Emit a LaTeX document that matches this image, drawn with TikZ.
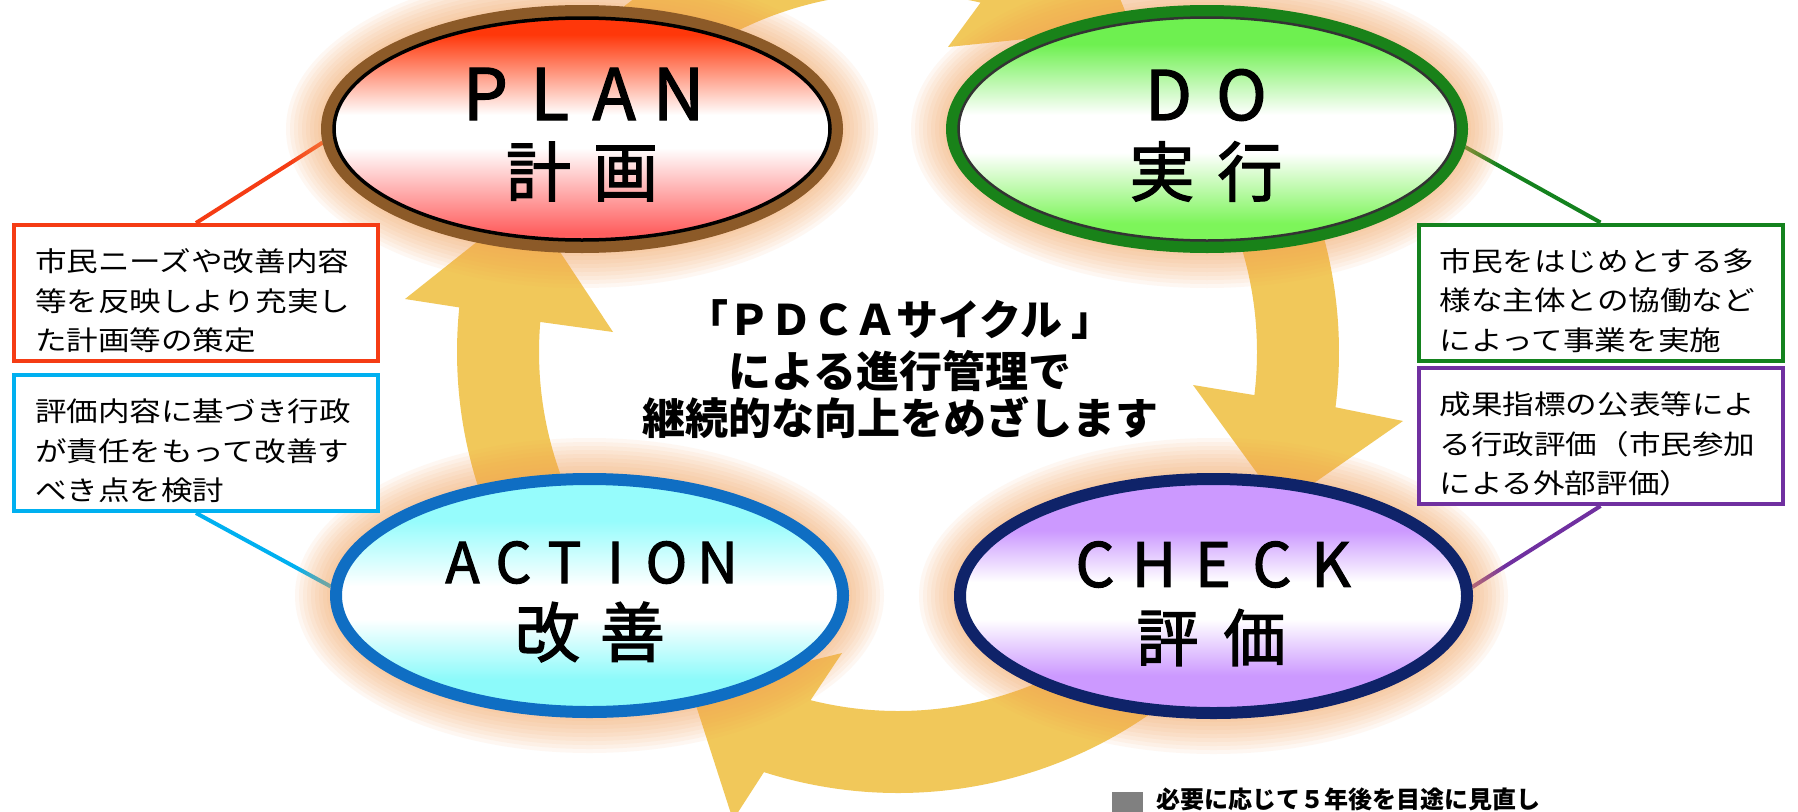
\documentclass[tikz,border=0pt]{standalone}
\usepackage{fontspec}
\setmainfont{Noto Sans CJK JP}
\newfontfamily\boxfont[FakeStretch=1.17]{Noto Sans CJK JP}
\newfontfamily\labelfont[FakeBold=2]{Noto Sans CJK JP}
\usetikzlibrary{shapes.geometric,calc}

\definecolor{arrowc}{RGB}{241,200,90}
\definecolor{glowc}{RGB}{247,160,85}
\definecolor{planT}{RGB}{255,55,10}
\definecolor{planB}{RGB}{255,95,95}
\definecolor{planBorder}{RGB}{140,90,40}
\definecolor{doT}{RGB}{110,240,80}
\definecolor{doB}{RGB}{125,245,90}
\definecolor{doBorder}{RGB}{25,130,25}
\definecolor{actT}{RGB}{150,252,252}
\definecolor{actB}{RGB}{140,250,250}
\definecolor{actBorder}{RGB}{15,110,195}
\definecolor{chkT}{RGB}{204,153,255}
\definecolor{chkB}{RGB}{204,153,255}
\definecolor{chkBorder}{RGB}{15,35,105}
\definecolor{redline}{RGB}{245,60,20}
\definecolor{cyanline}{RGB}{0,176,240}
\definecolor{greenline}{RGB}{20,130,30}
\definecolor{purpleline}{RGB}{112,48,160}
\definecolor{notegray}{RGB}{128,128,128}

\pgfdeclareverticalshading{planshade}{100bp}{color(0bp)=(planB); color(28bp)=(planB); color(46bp)=(white); color(53bp)=(white); color(70bp)=(planT); color(100bp)=(planT)}
\pgfdeclareverticalshading{doshade}{100bp}{color(0bp)=(doB); color(30bp)=(doB); color(45bp)=(white); color(53bp)=(white); color(68bp)=(doT); color(100bp)=(doT)}
\pgfdeclareverticalshading{actshade}{100bp}{color(0bp)=(actB); color(32bp)=(actB); color(45bp)=(white); color(52bp)=(white); color(66bp)=(actT); color(100bp)=(actT)}
\pgfdeclareverticalshading{chkshade}{100bp}{color(0bp)=(chkB); color(33bp)=(chkB); color(45bp)=(white); color(53bp)=(white); color(64bp)=(chkT); color(100bp)=(chkT)}

\pgfdeclarelayer{bg}
\pgfdeclarelayer{arrows}
\pgfdeclarelayer{lines}
\pgfdeclarelayer{glow}
\pgfsetlayers{bg,arrows,lines,glow,main}

\newcommand\spcells[2]{\def\spcellwidth{#1}\spcloop#2\relax}
\def\spcloop#1{\ifx\relax#1\else\makebox[\spcellwidth]{#1}\expandafter\spcloop\fi}
\newcommand\boxstrut{\rule{0pt}{39pt}}

\begin{document}
\begin{tikzpicture}[x=1pt,y=-1pt,
  phase/.style={ellipse, shade, inner sep=0pt, line width=12pt},
  lbl/.style={inner sep=0pt, text=black},
  infobox/.style={draw, line width=4pt, fill=white, minimum width=364pt, minimum height=136pt,
     align=left, text width=322pt, inner xsep=21pt, inner ysep=0pt,
     font=\boxfont\fontsize{27}{39.5}\selectfont},
  link/.style={line width=4pt},
  cyclearrow/.style={fill=arrowc},
  glowring/.style={fill=glowc, opacity=0.075}]

\begin{pgfonlayer}{bg}
  \fill[white] (0,0) rectangle (1798,811);
\end{pgfonlayer}
\useasboundingbox (0,0) rectangle (1798,811);

% phase ellipses
\node[phase, draw=planBorder, shading=planshade, minimum width=510pt, minimum height=236pt] (plan) at (582,129) {};
\node[phase, draw=doBorder, shading=doshade, minimum width=510pt, minimum height=236pt] (do) at (1207,129) {};
\node[phase, draw=actBorder, shading=actshade, minimum width=507pt, minimum height=233pt] (action) at (589.5,595.5) {};
\node[phase, draw=chkBorder, shading=chkshade, minimum width=507pt, minimum height=234pt] (check) at (1213.5,596) {};
\draw[black, line width=3.5pt] (plan.center) ellipse[x radius=248, y radius=111];
\draw[black!80, line width=2.5pt] (do.center) ellipse[x radius=248.5, y radius=111.5];

% labels
\node[lbl, font=\labelfont\fontsize{71}{71}\selectfont] (planen) at (582,94) {\spcells{64.4pt}{PLAN}};
\node[lbl, font=\labelfont\fontsize{65}{65}\selectfont] (planjp) at (582,171.5) {\spcells{87pt}{計画}};
\node[lbl, font=\labelfont\fontsize{68}{68}\selectfont] (doen) at (1205,95) {\spcells{73pt}{DO}};
\node[lbl, font=\labelfont\fontsize{65}{65}\selectfont] (dojp) at (1206,171.5) {\spcells{88pt}{実行}};
\node[lbl, font=\labelfont\fontsize{56}{56}\selectfont] (actionen) at (590,562.5) {\spcells{51pt}{ACTION}};
\node[lbl, font=\labelfont\fontsize{65}{65}\selectfont] (actionjp) at (590,632) {\spcells{85pt}{改善}};
\node[lbl, font=\labelfont\fontsize{61}{61}\selectfont] (checken) at (1213,564.5) {\spcells{59pt}{CHECK}};
\node[lbl, font=\labelfont\fontsize{62}{62}\selectfont] (checkjp) at (1211,637.5) {\spcells{87pt}{評価}};

% info boxes
\node[infobox, draw=redline] (redbox) at (196,293) {\boxstrut 市民ニーズや改善内容\\等を反映しより充実し\\た計画等の策定};
\node[infobox, draw=cyanline] (cyanbox) at (196,443) {\boxstrut 評価内容に基づき行政\\が責任をもって改善す\\べき点を検討};
\node[infobox, draw=greenline] (greenbox) at (1600.5,292.5) {\boxstrut 市民をはじめとする多\\様な主体との協働など\\によって事業を実施};
\node[infobox, draw=purpleline] (purplebox) at (1600.5,436) {\boxstrut 成果指標の公表等によ\\る行政評価（市民参加\\による外部評価）};

% centre text
\node[lbl, align=center, font=\bfseries\fontsize{43}{47}\selectfont] (centre) at (900,369)
  {{\fontsize{42}{47}\selectfont 「ＰＤＣＡサイクル\ 」}\\[5pt]による進行管理で\\継続的な向上をめざします};

% bottom note
\node[fill=notegray, minimum width=31pt, minimum height=28pt, inner sep=0pt] (sq) at (1127.5,806) {};
\node[lbl, anchor=west, font=\bfseries\fontsize{24}{24}\selectfont] (note) at (1156,799) {必要に応じて５年後を目途に見直し};

% connectors
\begin{pgfonlayer}{lines}
  \draw[link, redline] (redbox.north) -- (plan.183);
  \draw[link, cyanline] (cyanbox.south) -- (action.178);
  \draw[link, greenline] (do.356) -- (greenbox.north);
  \draw[link, purpleline] (purplebox.south) -- (check.2);
\end{pgfonlayer}

% glow
\begin{pgfonlayer}{glow}
  \foreach \n/\a/\b in {plan/261/124, do/261/124, action/259.5/122.5, check/259.5/123}{
    \foreach \d in {3,7,...,35}{
      \fill[glowring] (\n.center) ellipse[x radius=\a+\d, y radius=\b+\d];
    }
  }
\end{pgfonlayer}

% cycle arrows
\begin{pgfonlayer}{arrows}
  \coordinate (C) at (898,352);
  \fill[cyclearrow] ($(C)+(140:441)$) arc[start angle=140,end angle=185.8,radius=441]
     -- (405,299) -- (527,202) -- (613,332) -- ($(C)+(184.8:359)$)
     arc[start angle=184.8,end angle=140,radius=359] -- cycle;
  \fill[cyclearrow] ($(C)+(215:441)$) arc[start angle=215,end angle=287.7,radius=441]
     -- (1071,-122) -- (1132,28) -- (948,47) -- ($(C)+(283.3:359)$)
     arc[start angle=283.3,end angle=215,radius=359] -- cycle;
  \fill[cyclearrow] ($(C)+(-40:441)$) arc[start angle=-40,end angle=7.2,radius=441]
     -- (1403,421) -- (1281,506) -- (1193,385) -- ($(C)+(6.9:359)$)
     arc[start angle=6.9,end angle=-40,radius=359] -- cycle;
  \fill[cyclearrow] ($(C)+(40:441)$) arc[start angle=40,end angle=107.7,radius=441]
     -- (733,820) -- (691,690) -- (842,653) -- ($(C)+(104.1:359)$)
     arc[start angle=104.1,end angle=40,radius=359] -- cycle;
\end{pgfonlayer}
\end{tikzpicture}
\end{document}
